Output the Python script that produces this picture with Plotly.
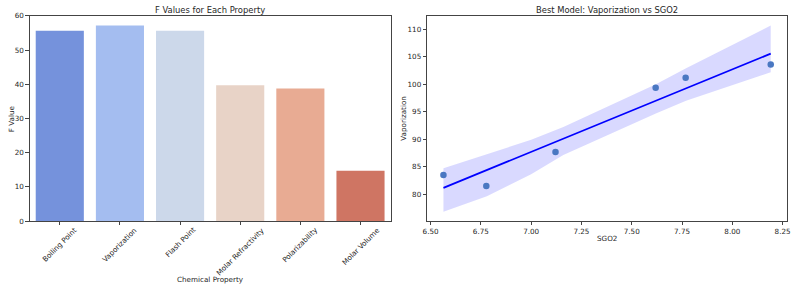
import plotly.graph_objects as go
import numpy as np

# ---- Data: left panel ----
properties = ["Boiling Point", "Vaporization", "Flash Point", "Molar Refractivity", "Polarizability", "Molar Volume"]
f_values = [55.7, 57.2, 55.7, 39.7, 38.8, 14.7]
bar_colors = ["#7592dc", "#a4bdf0", "#ccd8ea", "#e8d3c7", "#e8ab93", "#cf7563"]

# ---- Data: right panel ----
sgo2 = [6.564, 6.777, 7.121, 7.619, 7.768, 8.191]
vaporization = [83.5, 81.5, 87.65, 99.35, 101.2, 103.6]
band_x = [6.564, 6.78, 7.00, 7.16, 7.40, 7.62, 7.77, 8.191]
band_upper = [84.7, 87.3, 89.9, 92.2, 96.2, 100.0, 102.9, 110.7]
band_lower = [76.8, 79.6, 83.6, 87.1, 91.0, 94.7, 97.0, 102.2]

W, H = 793, 289
FONT = "DejaVu Sans"
TICK = 7.2
TXT = "#262626"

# regression line from data
slope, intercept = np.polyfit(sgo2, vaporization, 1)
line_x = [min(sgo2), max(sgo2)]
line_y = [intercept + slope * v for v in line_x]

fig = go.Figure()

fig.add_trace(go.Bar(x=list(range(len(properties))), y=f_values, marker=dict(color=bar_colors, line=dict(width=0)),
                     width=0.8, xaxis="x", yaxis="y", showlegend=False))

fig.add_trace(go.Scatter(x=band_x + band_x[::-1], y=band_upper + band_lower[::-1], fill="toself",
                         fillcolor="rgba(0,0,255,0.15)", line=dict(width=0), mode="lines",
                         xaxis="x2", yaxis="y2", showlegend=False, hoverinfo="skip"))
fig.add_trace(go.Scatter(x=line_x, y=line_y, mode="lines", line=dict(color="#0000ff", width=1.8),
                         xaxis="x2", yaxis="y2", showlegend=False))
fig.add_trace(go.Scatter(x=sgo2, y=vaporization, mode="markers", marker=dict(color="#4a78c2", size=6.5),
                         xaxis="x2", yaxis="y2", showlegend=False))

L0, L1 = 25 / W, 390 / W
R0, R1 = 427 / W, 791 / W
Y0, Y1 = 1 - 224 / H, 1 - 12 / H

axis_common = dict(showline=True, linecolor="#444", linewidth=0.9, mirror=True, ticks="outside",
                   ticklen=3.5, tickcolor="#444", showgrid=False, zeroline=False, ticklabeloverflow="allow",
                   tickfont=dict(family=FONT, size=TICK, color=TXT))

fig.update_layout(
    width=W, height=H, margin=dict(l=0, r=0, t=0, b=0),
    plot_bgcolor="white", paper_bgcolor="white",
    xaxis=dict(domain=[L0, L1], range=[-0.5, 5.5], tickvals=list(range(6)), showticklabels=False, **axis_common),
    yaxis=dict(domain=[Y0, Y1], range=[0, 60.1], dtick=10, **axis_common),
    xaxis2=dict(domain=[R0, R1], range=[6.483, 8.272], tickvals=[6.5, 6.75, 7.0, 7.25, 7.5, 7.75, 8.0, 8.25],
                ticktext=["6.50", "6.75", "7.00", "7.25", "7.50", "7.75", "8.00", "8.25"], anchor="y2", **axis_common),
    yaxis2=dict(domain=[Y0, Y1], range=[75.1, 112.5], dtick=5, anchor="x2", **axis_common),
)

ann = []
# rotated category labels (centered under ticks, like matplotlib rotation=45)
for i, p in enumerate(properties):
    ann.append(dict(x=i, y=Y0 - 3 / H, xref="x", yref="paper", text=p, textangle=-45, showarrow=False,
                    borderpad=0, xanchor="center", yanchor="top", font=dict(family=FONT, size=TICK, color=TXT)))
ann += [
    dict(x=(L0 + L1) / 2, y=1 - 6 / H, xref="paper", yref="paper", text="F Values for Each Property", showarrow=False,
         xanchor="center", yanchor="middle", font=dict(family=FONT, size=8.4, color=TXT)),
    dict(x=(R0 + R1) / 2, y=1 - 6 / H, xref="paper", yref="paper", text="Best Model: Vaporization vs SGO2", showarrow=False,
         xanchor="center", yanchor="middle", font=dict(family=FONT, size=8.4, color=TXT)),
    dict(x=(L0 + L1) / 2, y=1 - 284 / H, xref="paper", yref="paper", text="Chemical Property", showarrow=False,
         xanchor="center", yanchor="middle", font=dict(family=FONT, size=TICK, color=TXT)),
    dict(x=(R0 + R1) / 2, y=1 - 242 / H, xref="paper", yref="paper", text="SGO2", showarrow=False,
         xanchor="center", yanchor="middle", font=dict(family=FONT, size=TICK, color=TXT)),
    dict(x=6 / W, y=(Y0 + Y1) / 2, xref="paper", yref="paper", text="F Value", textangle=-90, showarrow=False,
         xanchor="center", yanchor="middle", font=dict(family=FONT, size=TICK, color=TXT)),
    dict(x=403 / W, y=(Y0 + Y1) / 2, xref="paper", yref="paper", text="Vaporization", textangle=-90, showarrow=False,
         xanchor="center", yanchor="middle", font=dict(family=FONT, size=TICK, color=TXT)),
]
fig.update_layout(annotations=ann)

fig.write_html("out.html", config={"displayModeBar": False},
               post_script="document.body.style.margin='0';")
